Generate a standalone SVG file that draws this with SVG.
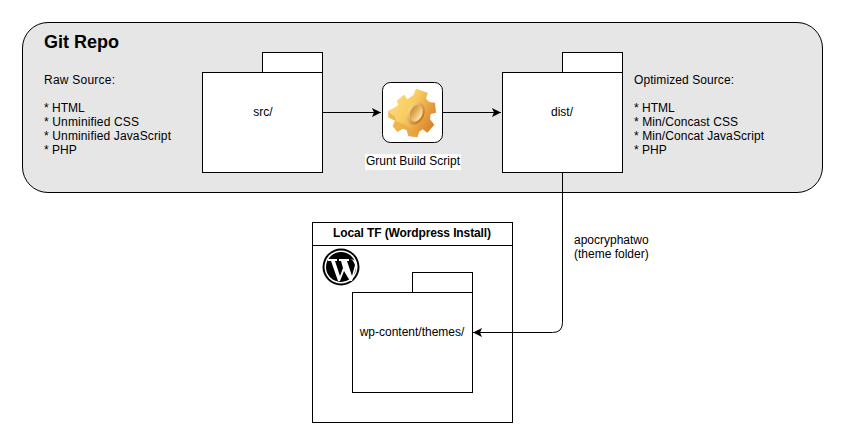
<svg xmlns="http://www.w3.org/2000/svg" width="844" height="444" viewBox="0 0 844 444">
<style>
text{font-family:"Liberation Sans",Arial,sans-serif;font-size:12px;fill:#000}
.b{fill:#fff;stroke:#000;stroke-width:1}
.c{fill:none;stroke:#000;stroke-width:1}
.m{text-anchor:middle}
.bold{font-weight:bold}
</style>
<defs>
<marker id="arr" markerWidth="10" markerHeight="9" refX="9" refY="4.500" orient="auto" markerUnits="userSpaceOnUse"><path d="M0,0L9,4.500L0,9L2,4.500Z" fill="#000"/></marker>
<linearGradient id="gear" x1="0" y1="0" x2="1" y2="0.6"><stop offset="0" stop-color="#fde08a"/><stop offset=".5" stop-color="#f9cc60"/><stop offset="1" stop-color="#d9852c"/></linearGradient>
<linearGradient id="hole" x1="0" y1="0" x2="1" y2="0.3"><stop offset="0" stop-color="#c97f28"/><stop offset="1" stop-color="#fbe09a"/></linearGradient>
<linearGradient id="rim" x1="0" y1="0" x2="1" y2="0.3"><stop offset="0" stop-color="#fde494"/><stop offset="1" stop-color="#c87a26"/></linearGradient>
</defs>
<g id="git-repo">
<rect x="22.500" y="22.500" width="800" height="170" rx="25.500" ry="25.500" fill="#e6e6e6" stroke="#000"/>
<text x="44" y="48" class="bold" style="font-size:18px">Git Repo</text>
<text x="44" y="84" textLength="71">Raw Source:</text>
<text x="44" y="112">* HTML</text>
<text x="44" y="126" textLength="95">* Unminified CSS</text>
<text x="44" y="140" textLength="127">* Unminified JavaScript</text>
<text x="44" y="154">* PHP</text>
<text x="634" y="84" textLength="100">Optimized Source:</text>
<text x="634" y="112">* HTML</text>
<text x="634" y="126" textLength="104">* Min/Concast CSS</text>
<text x="634" y="140" textLength="130">* Min/Concat JavaScript</text>
<text x="634" y="154">* PHP</text>
</g>
<g id="src">
<rect class="b" x="262.500" y="52.500" width="60" height="20"/>
<rect class="b" x="202.500" y="72.500" width="120" height="100"/>
<text x="263" y="116" class="m">src/</text>
</g>
<g id="grunt">
<rect class="b" x="382.500" y="82.500" width="60" height="60" rx="8" ry="8"/>
<g transform="translate(380 80) scale(.33333)">
<path fill="url(#gear)" d="M50 62L72 44L82 58L100 46L108 26L143 38L138 56L148 66L165 68L168 98L152 102L150 118L163 134L142 158L128 148L117 156L112 172L85 168L80 150L68 146L52 156L38 138L45 122L25 112L25 92L45 82L55 75Z"/>
<path fill="#e8a544" opacity=".6" d="M25 92L25 112L45 122L38 138L52 156L68 146L80 150L85 168L112 172L117 156L100 152L85 142L70 132L48 124L44 108L30 100Z"/>
<ellipse cx="107" cy="100" rx="26" ry="35" transform="rotate(22 107 100)" fill="url(#rim)"/>
<ellipse cx="109" cy="100" rx="18" ry="26" transform="rotate(22 109 100)" fill="url(#hole)"/>
</g>
<rect x="365" y="154" width="96" height="16" fill="#fff"/>
<text x="413" y="165" class="m" textLength="94">Grunt Build Script</text>
</g>
<g id="dist">
<rect class="b" x="562.500" y="52.500" width="60" height="20"/>
<rect class="b" x="502.500" y="72.500" width="120" height="100"/>
<text x="562" y="116" class="m">dist/</text>
</g>
<g id="local-tf">
<rect class="b" x="312.500" y="222.500" width="200" height="200"/>
<path class="c" d="M312.500 245.500H512.500"/>
<text x="412" y="237" class="m bold" textLength="158">Local TF (Wordpress Install)</text>
<circle cx="341" cy="267" r="18.500" fill="#000"/>
<circle cx="341" cy="267" r="16.500" fill="#fff"/>
<circle cx="341" cy="267" r="15" fill="#000"/>
<path fill="#fff" d="M328 259H337V261L335 261L340 276L343 268L341 261H339V259H349V261H347L352 276L355 265Q353 259 350 259Q356 259 357 265L352 281H350L344 271L340 281H338L331 261H328Z"/>
</g>
<g id="wp-content">
<rect class="b" x="412.500" y="272.500" width="60" height="20"/>
<rect class="b" x="352.500" y="292.500" width="120" height="100"/>
<text x="412" y="336" class="m">wp-content/themes/</text>
</g>
<g id="connectors">
<path class="c" d="M323 112.500H381" marker-end="url(#arr)"/>
<path class="c" d="M443 112.500H501" marker-end="url(#arr)"/>
<path class="c" d="M562.500 172.500V322.500Q562.500 332.500 552.500 332.500H473" marker-end="url(#arr)"/>
</g>
<g id="label">
<text x="574" y="244">apocryphatwo</text>
<text x="574" y="258">(theme folder)</text>
</g>
</svg>
